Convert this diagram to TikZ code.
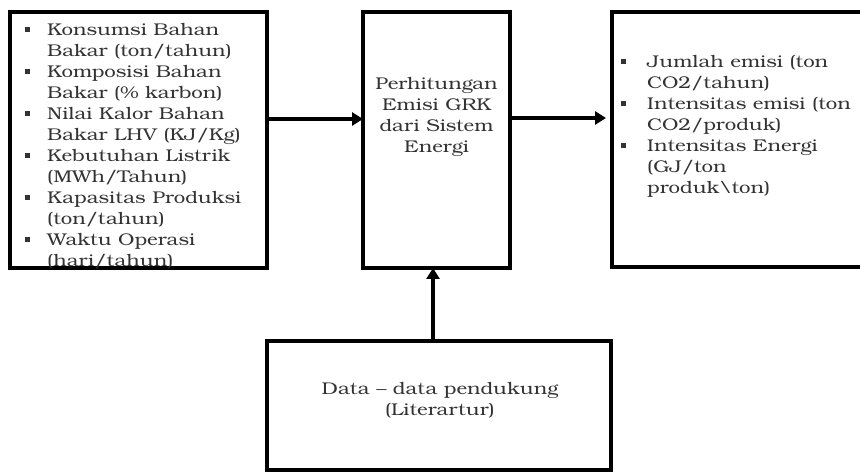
\documentclass[tikz,border=0pt]{standalone}
\usepackage{fontspec}
\setmainfont{texgyrebonum-regular.otf}[FakeStretch=1.2]
\usetikzlibrary{arrows.meta}
\newcommand\bul[1]{\makebox[#1][l]{\raisebox{3pt}{\rule{5pt}{5pt}}}}
\newcommand\ind[1]{\hspace*{#1}}
\tikzset{
  box/.style={draw=black, line width=3.6pt},
  txt/.style={inner sep=0pt, text=black!80, font=\fontsize{17}{21}\selectfont},
  listtxt/.style={txt, align=left, anchor=north west},
  arr/.style={line width=3.6pt, -{Triangle[length=11pt,width=13pt]}}
}
\begin{document}
\begin{tikzpicture}[x=1pt,y=-1pt]
\useasboundingbox (0,0) rectangle (860,473);
\fill[white] (0,0) rectangle (860,473);
% boxes
\draw[box] (10,12) rectangle (267,268);
\draw[box] (363,12) rectangle (510,268);
\draw[box] (612,12) rectangle (880,267);
\draw[box] (267,341) rectangle (611,470);
% named anchors
\coordinate (inR) at (267,119);
\coordinate (midL) at (363,119);
\coordinate (midR) at (510,118);
\coordinate (outL) at (606,118);
\coordinate (supT) at (433,341);
\coordinate (midB) at (433,268);
% texts
\node[listtxt] (inp) at (25,23) {%
\bul{22pt}Konsumsi Bahan\\ \ind{22pt}Bakar (ton/tahun)\\
\bul{22pt}Komposisi Bahan\\ \ind{22pt}Bakar (\% karbon)\\
\bul{22pt}Nilai Kalor Bahan\\ \ind{22pt}Bakar LHV (KJ/Kg)\\
\bul{22pt}Kebutuhan Listrik\\ \ind{22pt}(MWh/Tahun)\\
\bul{22pt}Kapasitas Produksi\\ \ind{22pt}(ton/tahun)\\
\bul{22pt}Waktu Operasi\\ \ind{22pt}(hari/tahun)};
\node[txt, align=center] (calc) at (436.5,117) {Perhitungan\\ Emisi GRK\\ dari Sistem\\ Energi};
\node[listtxt] (out) at (621,55) {%
\bul{26pt}Jumlah emisi (ton\\ \ind{26pt}CO2/tahun)\\
\bul{26pt}Intensitas emisi (ton\\ \ind{26pt}CO2/produk)\\
\bul{26pt}Intensitas Energi\\ \ind{26pt}(GJ/ton\\ \ind{26pt}produk\textbackslash ton)};
\node[txt, align=center] (sup) at (440,400) {Data -- data pendukung\\ (Literartur)};
% arrows
\draw[arr] (inR) -- (midL);
\draw[arr] (midR) -- (outL);
\draw[arr] (supT) -- (midB);
\end{tikzpicture}
\end{document}
